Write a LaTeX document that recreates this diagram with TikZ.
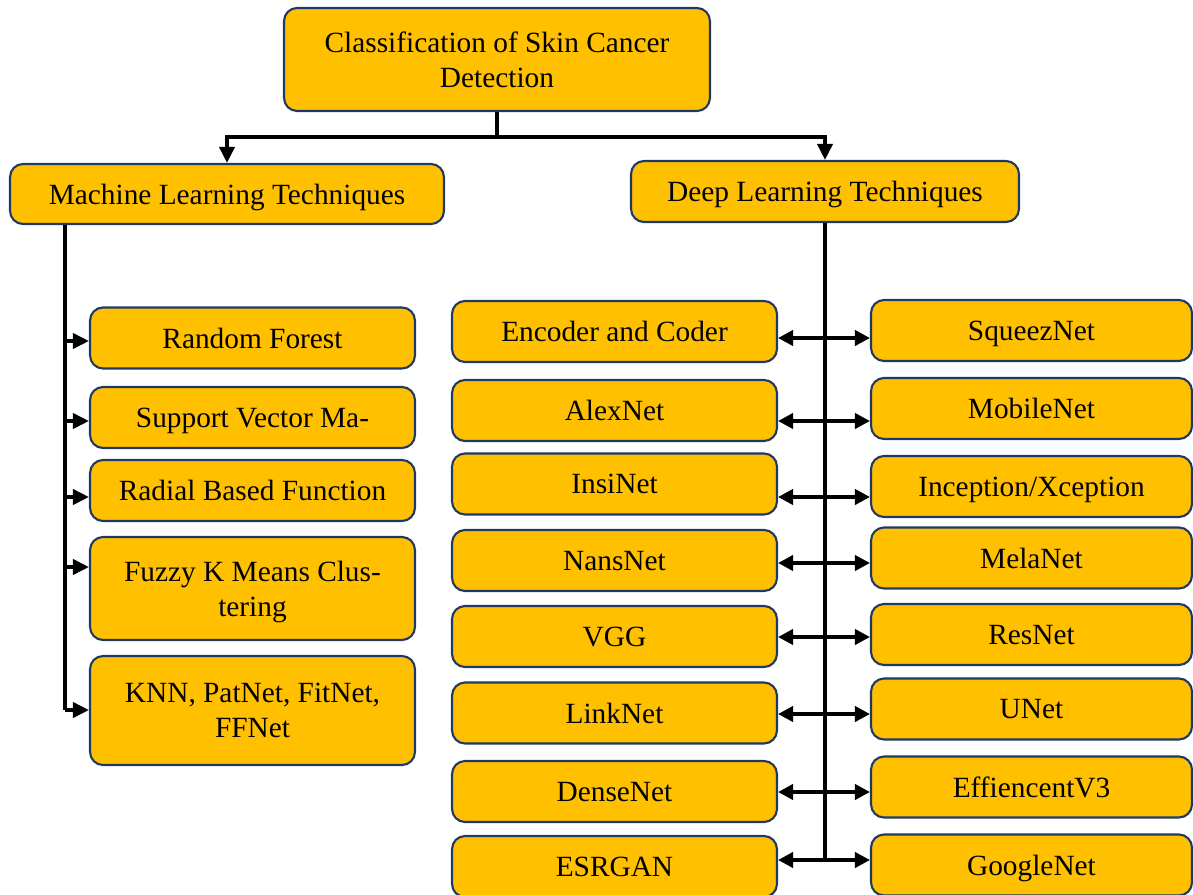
\documentclass[tikz,border=0pt]{standalone}
\usepackage{fontspec}
\setmainfont{Liberation Serif}
\usetikzlibrary{arrows.meta}

\definecolor{boxfill}{HTML}{FFC000}
\definecolor{boxline}{HTML}{1F3864}

\tikzset{
  box/.style={draw=boxline, fill=boxfill, line width=1.2pt, rounded corners=0.26cm,
    align=center, inner sep=2pt, text depth=0pt, font=\fontsize{16.7}{20}\selectfont},
  leftbox/.style={box, minimum width=6.5cm, minimum height=1.22cm},
  midbox/.style={box, minimum width=6.5cm, minimum height=1.22cm},
  rightbox/.style={box, minimum width=6.42cm, minimum height=1.22cm},
  link/.style={line width=2.1pt},
  tip/.style={link, -{Triangle[length=0.32cm,width=0.3cm]}},
  both/.style={link, {Triangle[length=0.3cm,width=0.3cm]}-{Triangle[length=0.3cm,width=0.3cm]}}
}

\begin{document}
\begin{tikzpicture}[x=0.02cm, y=-0.02cm]
  \clip (0,0) rectangle (1193,895);

  % top and the two branches
  \node[box, minimum width=8.52cm, minimum height=2.06cm] (root) at (497,59.5)
    {Classification of Skin Cancer\\Detection};
  \node[box, minimum width=8.68cm, minimum height=1.2cm] (ml) at (227,194) {Machine Learning Techniques};
  \node[box, minimum width=7.76cm, minimum height=1.22cm] (dl) at (825,191.5) {Deep Learning Techniques};

  \coordinate (split) at (497,137);
  \draw[link] (root.south) -- (split);
  \draw[tip] (split) -| (ml.north);
  \draw[tip] (split) -| (dl.north);

  % machine learning
  \node[leftbox] (rf) at (252.5,338) {Random Forest};
  \node[leftbox] (svm) at (252.5,417.5) {Support Vector Ma-};
  \node[leftbox] (rbf) at (252.5,490.5) {Radial Based Function};
  \node[leftbox, minimum height=2.06cm] (fkm) at (252.5,588.5) {Fuzzy K Means Clus-\\tering};
  \node[leftbox, minimum height=2.18cm] (knn) at (252.5,710.5) {KNN, PatNet, FitNet,\\FFNet};

  \coordinate (mlend) at (65,710);
  \draw[link] (ml.south -| mlend) -- (mlend);
  \foreach \n/\y in {rf/341, svm/421, rbf/497, fkm/567, knn/710}{
    \coordinate (a\n) at (65,\y);
    \draw[tip] (a\n) -- (\n.west |- a\n);
  }

  % deep learning, left column
  \node[midbox] (enc) at (614.5,331.5) {Encoder and Coder};
  \node[midbox] (alex) at (614.5,410.5) {AlexNet};
  \node[midbox] (insi) at (614.5,484) {InsiNet};
  \node[midbox] (nans) at (614.5,560.5) {NansNet};
  \node[midbox] (vgg) at (614.5,636.5) {VGG};
  \node[midbox] (link) at (614.5,713) {LinkNet};
  \node[midbox] (dense) at (614.5,791.5) {DenseNet};
  \node[midbox] (esr) at (614.5,866.5) {ESRGAN};

  % deep learning, right column
  \node[rightbox] (sqz) at (1031.5,330.5) {SqueezNet};
  \node[rightbox] (mob) at (1031.5,408.5) {MobileNet};
  \node[rightbox] (incep) at (1031.5,486.5) {Inception/Xception};
  \node[rightbox] (mela) at (1031.5,558) {MelaNet};
  \node[rightbox] (res) at (1031.5,634.5) {ResNet};
  \node[rightbox] (unet) at (1031.5,709) {UNet};
  \node[rightbox] (eff) at (1031.5,787) {EffiencentV3};
  \node[rightbox] (goog) at (1031.5,865) {GoogleNet};

  \coordinate (dlend) at (825,860);
  \draw[link] (dl.south) -- (dlend);
  \foreach \l/\r/\y in {enc/sqz/338, alex/mob/421, insi/incep/497, nans/mela/563,
      vgg/res/637, link/unet/714, dense/eff/792, esr/goog/860}{
    \coordinate (s\l) at (825,\y);
    \draw[both] (\l.east |- s\l) -- (\r.west |- s\l);
  }
\end{tikzpicture}
\end{document}
